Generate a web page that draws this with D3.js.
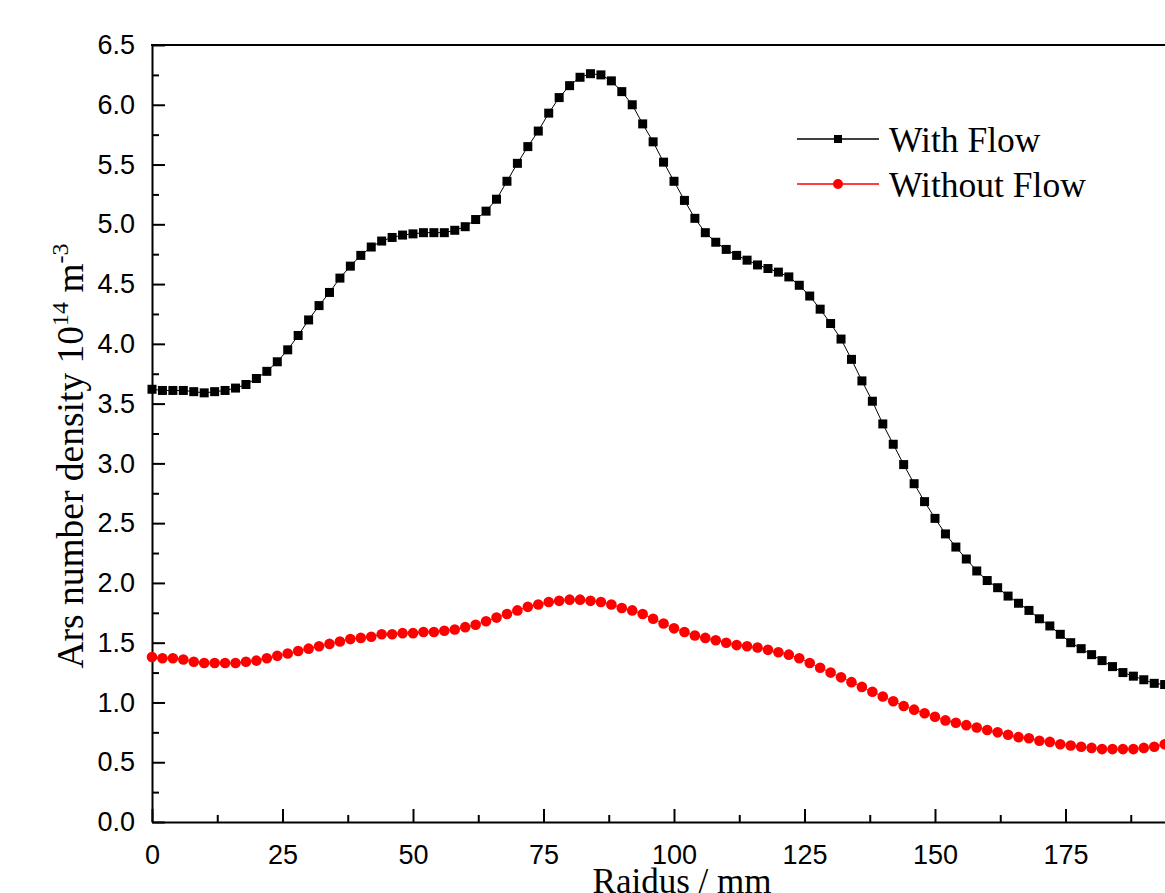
<!DOCTYPE html>
<html>
<head>
<meta charset="utf-8">
<script src="https://cdn.jsdelivr.net/npm/d3@7"></script>
<style>
  body { margin: 0; background: #fff; }
</style>
</head>
<body>
<div class="chart"></div>
<script>
// radius (mm)
var radius = [0, 2, 4, 6, 8, 10, 12, 14, 16, 18,
    20, 22, 24, 26, 28, 30, 32, 34, 36, 38,
    40, 42, 44, 46, 48, 50, 52, 54, 56, 58,
    60, 62, 64, 66, 68, 70, 72, 74, 76, 78,
    80, 82, 84, 86, 88, 90, 92, 94, 96, 98,
    100, 102, 104, 106, 108, 110, 112, 114, 116, 118,
    120, 122, 124, 126, 128, 130, 132, 134, 136, 138,
    140, 142, 144, 146, 148, 150, 152, 154, 156, 158,
    160, 162, 164, 166, 168, 170, 172, 174, 176, 178,
    180, 182, 184, 186, 188, 190, 192, 194];

var withFlow = [3.62, 3.61, 3.61, 3.61, 3.60, 3.59, 3.60, 3.61, 3.63, 3.66,
    3.71, 3.77, 3.85, 3.95, 4.07, 4.20, 4.32, 4.43, 4.55, 4.65,
    4.74, 4.81, 4.86, 4.89, 4.91, 4.92, 4.93, 4.93, 4.93, 4.95,
    4.98, 5.04, 5.11, 5.21, 5.36, 5.51, 5.65, 5.78, 5.93, 6.06,
    6.16, 6.23, 6.26, 6.25, 6.20, 6.11, 6.00, 5.84, 5.69, 5.52,
    5.36, 5.20, 5.05, 4.93, 4.85, 4.79, 4.74, 4.70, 4.66, 4.63,
    4.60, 4.56, 4.49, 4.40, 4.29, 4.17, 4.04, 3.87, 3.69, 3.52,
    3.33, 3.16, 2.99, 2.83, 2.68, 2.54, 2.41, 2.30, 2.20, 2.10,
    2.02, 1.96, 1.89, 1.83, 1.77, 1.70, 1.64, 1.57, 1.50, 1.45,
    1.40, 1.35, 1.30, 1.25, 1.22, 1.19, 1.16, 1.15];

var withoutFlow = [1.38, 1.37, 1.37, 1.36, 1.34, 1.33, 1.33, 1.33, 1.33, 1.34,
    1.35, 1.37, 1.39, 1.41, 1.43, 1.45, 1.47, 1.49, 1.51, 1.53,
    1.54, 1.55, 1.57, 1.57, 1.58, 1.58, 1.59, 1.59, 1.60, 1.61,
    1.63, 1.65, 1.68, 1.71, 1.74, 1.77, 1.80, 1.82, 1.84, 1.85,
    1.86, 1.86, 1.85, 1.84, 1.82, 1.79, 1.77, 1.74, 1.70, 1.66,
    1.62, 1.59, 1.56, 1.54, 1.52, 1.50, 1.48, 1.47, 1.46, 1.44,
    1.42, 1.40, 1.37, 1.33, 1.29, 1.25, 1.21, 1.17, 1.13, 1.09,
    1.05, 1.01, 0.97, 0.94, 0.91, 0.88, 0.85, 0.83, 0.81, 0.79,
    0.77, 0.75, 0.73, 0.71, 0.70, 0.68, 0.67, 0.65, 0.64, 0.63,
    0.62, 0.61, 0.61, 0.61, 0.61, 0.62, 0.63, 0.65];

var seriesNames = ["With Flow", "Without Flow"];
var xTicks = [0, 25, 50, 75, 100, 125, 150, 175];
var xMinor = [12.5, 37.5, 62.5, 87.5, 112.5, 137.5, 162.5, 187.5];
var yTicks = [0, 0.5, 1, 1.5, 2, 2.5, 3, 3.5, 4, 4.5, 5, 5.5, 6, 6.5];
var yMinor = [0.25, 0.75, 1.25, 1.75, 2.25, 2.75, 3.25, 3.75, 4.25, 4.75, 5.25, 5.75, 6.25];

var W = 1165, H = 893;
var plotLeft = 152, plotTop = 45, plotBottom = 822;

var svg = d3.select(".chart").append("svg")
    .attr("width", W)
    .attr("height", H);

var x = d3.scaleLinear().domain([0, 200]).range([plotLeft, plotLeft + 200 * 5.22]);
var y = d3.scaleLinear().domain([0, 6.5]).range([plotBottom, plotTop]);

var series = [
    {name: seriesNames[0], values: withFlow, color: "#000000", shape: "square"},
    {name: seriesNames[1], values: withoutFlow, color: "#ff0000", shape: "circle"}
];

// top frame line
svg.append("line")
    .attr("x1", plotLeft - 1).attr("x2", x.range()[1])
    .attr("y1", plotTop).attr("y2", plotTop)
    .style("stroke", "black")
    .style("stroke-width", "2px");

// axes
function styleAxis(g) {
    g.selectAll("path, line").style("stroke", "black").style("stroke-width", "2px");
    g.selectAll("text")
        .style("font-family", "'Liberation Sans', Arial, sans-serif")
        .style("font-size", "27px")
        .style("fill", "black");
}

svg.append("g")
    .attr("transform", "translate(0," + plotBottom + ")")
    .call(d3.axisBottom(x).tickValues(xTicks).tickFormat(d3.format("d"))
          .tickSizeInner(-13).tickSizeOuter(0).tickPadding(23))
    .call(styleAxis);
svg.append("g")
    .attr("transform", "translate(0," + plotBottom + ")")
    .call(d3.axisBottom(x).tickValues(xMinor).tickFormat("")
          .tickSizeInner(-7).tickSizeOuter(0))
    .call(styleAxis)
    .select(".domain").remove();

svg.append("g")
    .attr("transform", "translate(" + plotLeft + ",0)")
    .call(d3.axisLeft(y).tickValues(yTicks).tickFormat(d3.format(".1f"))
          .tickSizeInner(-13).tickSizeOuter(0).tickPadding(17))
    .call(styleAxis);
svg.append("g")
    .attr("transform", "translate(" + plotLeft + ",0)")
    .call(d3.axisLeft(y).tickValues(yMinor).tickFormat("")
          .tickSizeInner(-7).tickSizeOuter(0))
    .call(styleAxis)
    .select(".domain").remove();

// lines + markers
var line = d3.line()
    .x(function (d, i) { return x(radius[i]); })
    .y(function (d) { return y(d); });

series.forEach(function (s) {
    svg.append("path")
        .datum(s.values)
        .attr("d", line)
        .style("fill", "none")
        .style("stroke", s.color)
        .style("stroke-width", "1px");
    if (s.shape == "square") {
        svg.selectAll(null).data(s.values).enter().append("rect")
            .attr("x", function (d, i) { return x(radius[i]) - 4.5; })
            .attr("y", function (d) { return y(d) - 4.5; })
            .attr("width", 9).attr("height", 9)
            .style("fill", s.color);
    } else {
        svg.selectAll(null).data(s.values).enter().append("circle")
            .attr("cx", function (d, i) { return x(radius[i]); })
            .attr("cy", function (d) { return y(d); })
            .attr("r", 5.3)
            .style("fill", s.color);
    }
});

// legend
var legend = svg.append("g").attr("transform", "translate(797,139)");
series.forEach(function (s, i) {
    var g = legend.append("g").attr("transform", "translate(0," + i * 45 + ")");
    g.append("line")
        .attr("x1", 0).attr("x2", 82)
        .style("stroke", s.color).style("stroke-width", "1.5px");
    if (s.shape == "square") {
        g.append("rect").attr("x", 37).attr("y", -4).attr("width", 8).attr("height", 8)
            .style("fill", s.color);
    } else {
        g.append("circle").attr("cx", 41).attr("cy", 0).attr("r", 5)
            .style("fill", s.color);
    }
    g.append("text")
        .attr("x", 92).attr("y", 13)
        .text(s.name)
        .style("font-family", "'Liberation Serif', 'Times New Roman', serif")
        .style("font-size", "35.5px")
        .style("fill", "black");
});

// axis titles
svg.append("text")
    .attr("x", 682).attr("y", 893)
    .attr("text-anchor", "middle")
    .text("Raidus / mm")
    .style("font-family", "'Liberation Serif', 'Times New Roman', serif")
    .style("font-size", "35px");

var yt = svg.append("text")
    .attr("transform", "translate(83,456) rotate(-90)")
    .attr("text-anchor", "middle")
    .style("font-family", "'Liberation Serif', 'Times New Roman', serif")
    .style("font-size", "37.5px");
yt.append("tspan").text("Ars number density 10");
yt.append("tspan").attr("dy", -15).style("font-size", "24px").text("14");
yt.append("tspan").attr("dy", 15).text(" m");
yt.append("tspan").attr("dy", -15).style("font-size", "24px").text("-3");
</script>
</body>
</html>
